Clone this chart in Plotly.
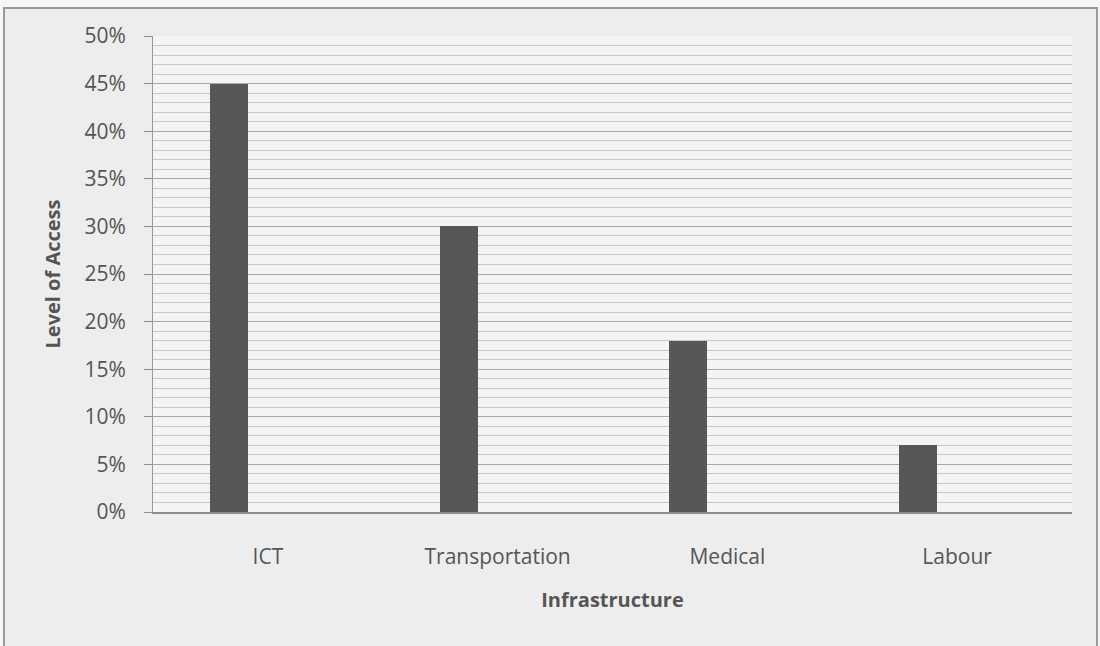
import plotly.graph_objects as go

# Share of respondents reporting access to each type of infrastructure
categories = ["ICT", "Transportation", "Medical", "Labour"]
access_pct = [45, 30, 18, 7]
y_tick_values = [0, 5, 10, 15, 20, 25, 30, 35, 40, 45, 50]
y_tick_labels = [f"{v}%" for v in y_tick_values]

text_grey = "#555555"
font_family = "'Open Sans', Lato, sans-serif"

fig = go.Figure(
    go.Bar(
        x=categories,
        y=access_pct,
        marker=dict(color="#575757", line=dict(width=0)),
        width=0.165,
        offset=-0.252,
        hoverinfo="x+y",
    )
)

fig.update_layout(
    width=1100,
    height=646,
    margin=dict(l=153, r=28, t=36, b=134),
    paper_bgcolor="#ededed",
    plot_bgcolor="#f4f4f4",
    showlegend=False,
    font=dict(family=font_family, color=text_grey),
    bargap=0,
)

fig.update_xaxes(
    type="category",
    range=[-0.5, 3.5],
    showgrid=False,
    showline=True,
    linecolor="#8c8c8c",
    linewidth=1.5,
    ticks="",
    tickfont=dict(size=21, color=text_grey),
    ticklabelstandoff=25,
    title=dict(
        text="<b>Infrastructure</b>",
        font=dict(size=20, color=text_grey),
        standoff=24,
    ),
)

fig.update_yaxes(
    range=[0, 50],
    tickvals=y_tick_values,
    ticktext=y_tick_labels,
    showline=True,
    linecolor="#9a9a9a",
    linewidth=1,
    ticks="outside",
    ticklen=8,
    tickcolor="#8c8c8c",
    tickfont=dict(size=21, color=text_grey),
    ticklabelstandoff=14,
    showgrid=True,
    gridcolor="#a8a8a8",
    gridwidth=1.2,
    zeroline=False,
    minor=dict(dtick=1, showgrid=True, gridcolor="#c8c8c8", gridwidth=1, ticks=""),
    title=dict(
        text="<b>Level of Access</b>",
        font=dict(size=20, color=text_grey),
        standoff=18,
    ),
)

# Light strips outside the chart frame
for x0, x1, y0, y1 in [
    (0, 4, 0, 646),
    (0, 1100, 0, 8),
    (1097, 1100, 0, 646),
]:
    fig.add_shape(
        type="rect",
        xref="paper",
        yref="paper",
        x0=(x0 - 153) / 919,
        x1=(x1 - 153) / 919,
        y0=(512 - y1) / 476,
        y1=(512 - y0) / 476,
        line=dict(width=0),
        fillcolor="#f6f6f6",
        layer="below",
    )

# Frame around the whole chart
fig.add_shape(
    type="rect",
    xref="paper",
    yref="paper",
    x0=(4 - 153) / 919,
    x1=(1097 - 153) / 919,
    y0=-140 / 476,
    y1=(512 - 8) / 476,
    line=dict(color="#9a9a9a", width=2),
    fillcolor="rgba(0,0,0,0)",
    layer="below",
)

fig.write_html("out.html")
